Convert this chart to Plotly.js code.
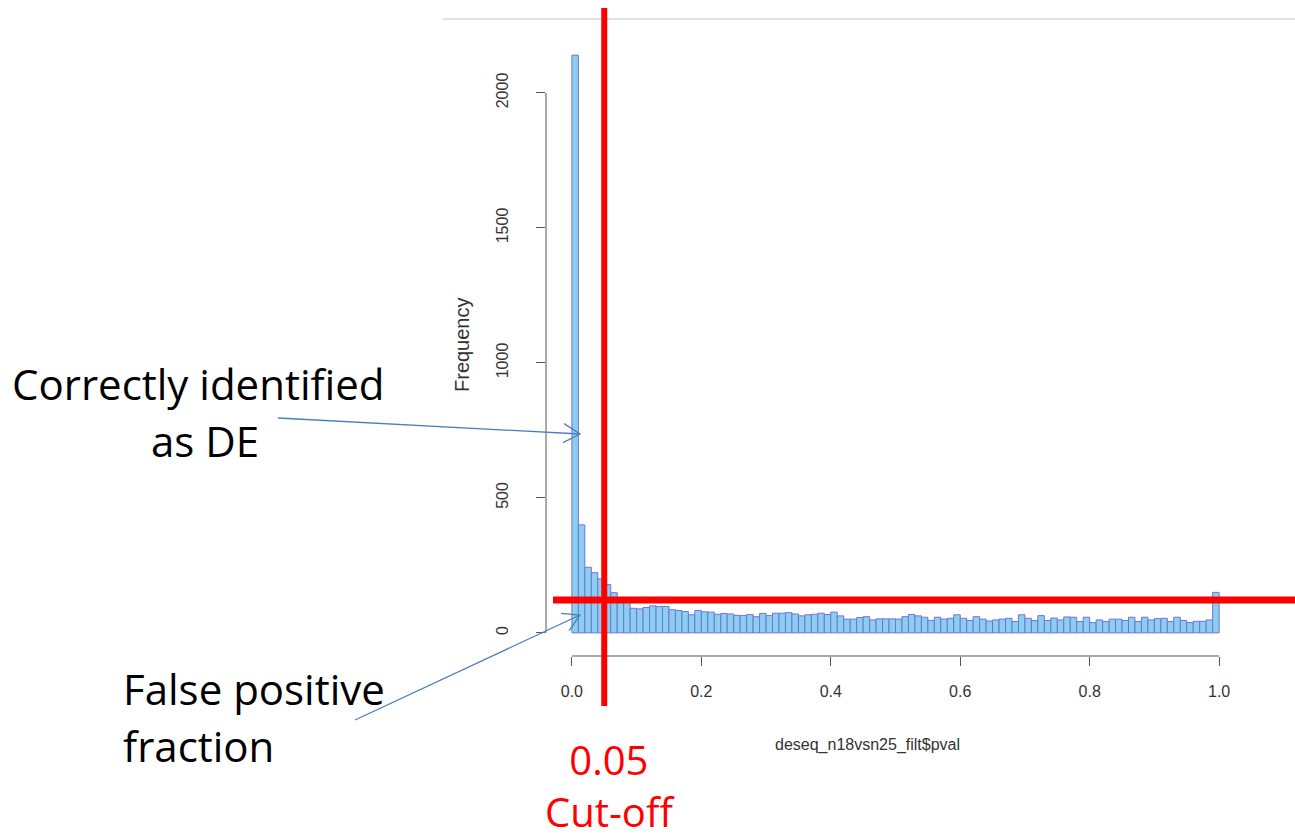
<!DOCTYPE html>
<html>
<head>
<meta charset="utf-8">
<script src="https://cdn.plot.ly/plotly-3.0.1.min.js"></script>
<style>html,body{margin:0;padding:0;background:#fff;}#chart{width:1295px;height:838px;}</style>
</head>
<body>
<div id="chart"></div>
<script>
// p-value histogram, bin width 0.01 from 0 to 1
const binWidth = 0.01;
const counts = [2140, 400, 243, 223, 200, 179, 149, 128, 113, 91,
  89, 94, 100, 98, 98, 86, 83, 79, 67, 83,
  78, 77, 69, 72, 70, 65, 64, 68, 60, 72,
  64, 73, 73, 75, 70, 63, 67, 69, 73, 68,
  77, 63, 51, 51, 57, 60, 48, 52, 52, 52,
  51, 60, 68, 63, 58, 46, 58, 51, 54, 67,
  54, 46, 60, 51, 44, 48, 51, 54, 42, 67,
  54, 46, 64, 46, 55, 48, 59, 58, 42, 58,
  38, 48, 42, 51, 51, 46, 58, 42, 58, 48,
  53, 54, 42, 58, 46, 38, 43, 43, 48, 150];
const xTickVals = [0, 0.2, 0.4, 0.6, 0.8, 1.0];
const xTickLabels = ["0.0", "0.2", "0.4", "0.6", "0.8", "1.0"];
const yTickVals = [0, 500, 1000, 1500, 2000];
const yTickLabels = ["0", "500", "1000", "1500", "2000"];
const cutoff = 0.05;
const cutoffCount = 122;

const binCenters = counts.map((_, i) => (i + 0.5) * binWidth);

// geometry helpers (pixel -> paper)
const W = 1295, H = 838;
const M = {l: 546, r: 50, t: 32, b: 182};
const PW = W - M.l - M.r, PH = H - M.t - M.b;
const px = x => (x - M.l) / PW;
const py = y => (H - M.b - y) / PH;

function openArrow(x0, y0, x1, y1, len, ang) {
  const dx = x1 - x0, dy = y1 - y0, d = Math.hypot(dx, dy);
  const ux = -dx / d, uy = -dy / d;
  const c = Math.cos(ang), s = Math.sin(ang);
  const ax = x1 + len * (ux * c - uy * s), ay = y1 + len * (ux * s + uy * c);
  const bx = x1 + len * (ux * c + uy * s), by = y1 + len * (-ux * s + uy * c);
  const P = (x, y) => px(x).toFixed(5) + ',' + py(y).toFixed(5);
  return {
    type: 'path', xref: 'paper', yref: 'paper', layer: 'above',
    path: 'M' + P(x0, y0) + ' L' + P(x1, y1) + ' M' + P(ax, ay) + ' L' + P(x1, y1) + ' L' + P(bx, by),
    line: {color: '#4a7ebb', width: 1.3}
  };
}

const trace = {
  type: 'bar',
  x: binCenters,
  y: counts,
  width: binWidth,
  marker: {color: '#8ad0ee', line: {color: '#7272dc', width: 1}},
  hoverinfo: 'x+y'
};

const axFont = {family: 'Liberation Sans, Arial, sans-serif', size: 16, color: '#333'};
const noteFont = {family: 'Open Sans, Liberation Sans, sans-serif', size: 42, color: '#000'};
const redFont = {family: 'Open Sans, Liberation Sans, sans-serif', size: 40, color: '#ff0000'};

const layout = {
  width: W, height: H,
  margin: {l: M.l, r: M.r, t: M.t, b: M.b, pad: 0},
  paper_bgcolor: '#fff', plot_bgcolor: '#fff',
  showlegend: false,
  bargap: 0,
  xaxis: {
    range: [-0.04, 1.04], tickvals: xTickVals, ticktext: xTickLabels,
    ticks: 'outside', ticklen: 9, tickcolor: '#555', tickwidth: 1,
    showline: false, showgrid: false, zeroline: false,
    tickfont: axFont, ticklabelstandoff: 12
  },
  yaxis: {
    range: [-85.6, 2225.6], tickvals: yTickVals, ticktext: yTickLabels,
    tickangle: -90,
    ticks: 'outside', ticklen: 9, tickcolor: '#555', tickwidth: 1,
    showline: false, showgrid: false, zeroline: false,
    tickfont: axFont, ticklabelstandoff: 22
  },
  shapes: [
    {type: 'line', xref: 'x', yref: 'paper', x0: 0, x1: 1, y0: 0, y1: 0, line: {color: '#555', width: 1}},
    {type: 'line', xref: 'paper', yref: 'y', x0: 0, x1: 0, y0: 0, y1: 2000, line: {color: '#555', width: 1}},
    {type: 'line', xref: 'paper', yref: 'paper', x0: px(443), x1: px(1295), y0: py(19), y1: py(19), line: {color: '#d9d9d9', width: 1.5}},
    {type: 'line', xref: 'x', yref: 'paper', x0: cutoff, x1: cutoff, y0: py(8), y1: py(706), line: {color: '#ff0000', width: 6}, layer: 'above'},
    {type: 'line', xref: 'paper', yref: 'y', x0: px(553), x1: px(1295), y0: cutoffCount, y1: cutoffCount, line: {color: '#ff0000', width: 7}, layer: 'above'},
    openArrow(278, 418, 580, 434, 19, Math.PI / 6),
    openArrow(355, 720, 580, 615, 19, Math.PI / 6)
  ],
  annotations: [
    {xref: 'paper', yref: 'paper', x: px(462), y: py(345), text: 'Frequency', textangle: -90, showarrow: false, xanchor: 'center', yanchor: 'middle', font: {family: axFont.family, size: 20, color: '#333'}},
    {xref: 'paper', yref: 'paper', x: px(867), y: py(745), text: 'deseq_n18vsn25_filt$pval', showarrow: false, xanchor: 'center', yanchor: 'middle', font: axFont},
    {xref: 'paper', yref: 'paper', x: px(198), y: py(383), text: 'Correctly identified', showarrow: false, xanchor: 'center', yanchor: 'middle', font: noteFont},
    {xref: 'paper', yref: 'paper', x: px(205), y: py(440), text: 'as DE', showarrow: false, xanchor: 'center', yanchor: 'middle', font: noteFont},
    {xref: 'paper', yref: 'paper', x: px(121), y: py(688), text: 'False positive', showarrow: false, xanchor: 'left', yanchor: 'middle', font: noteFont},
    {xref: 'paper', yref: 'paper', x: px(121), y: py(745), text: 'fraction', showarrow: false, xanchor: 'left', yanchor: 'middle', font: noteFont},
    {xref: 'paper', yref: 'paper', x: px(610), y: py(785), text: '0.05<br>Cut-off', align: 'center', showarrow: false, xanchor: 'center', yanchor: 'middle', borderpad: 0, font: redFont}
  ]
};

Plotly.newPlot('chart', [trace], layout, {displayModeBar: false, staticPlot: true});
</script>
</body>
</html>
